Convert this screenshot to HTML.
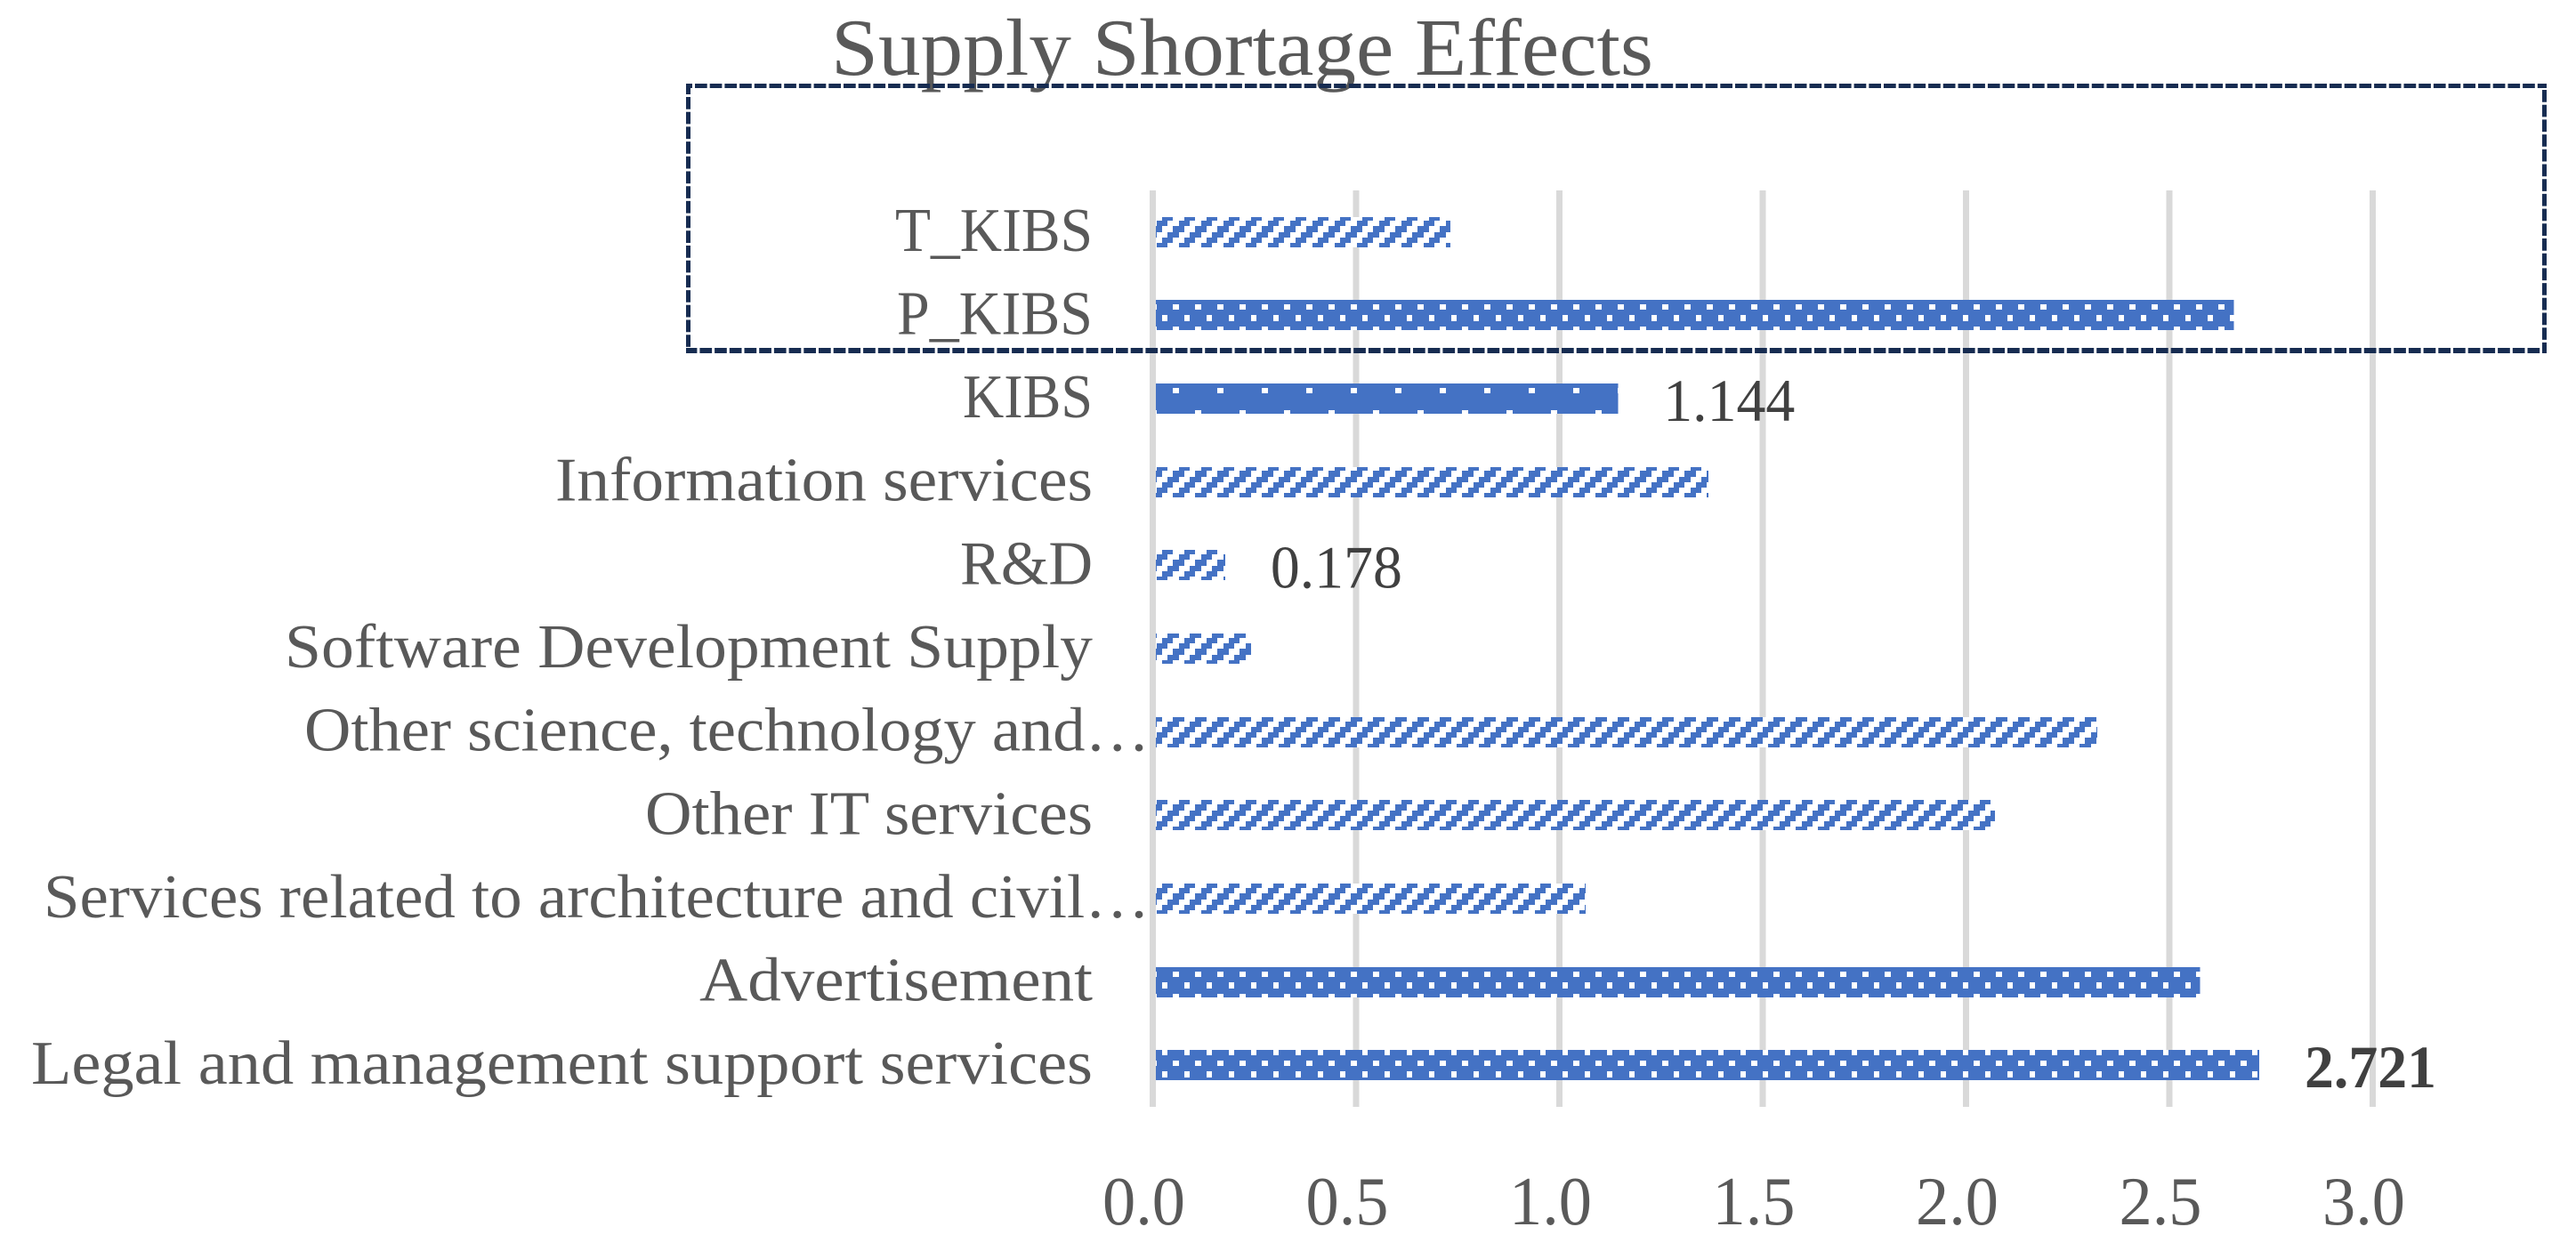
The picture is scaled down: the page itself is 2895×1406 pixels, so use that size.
<!DOCTYPE html>
<html lang="en">
<head>
<meta charset="utf-8">
<title>Supply Shortage Effects</title>
<style>
  html, body { margin: 0; padding: 0; background: #ffffff; }
  svg { display: block; font-family: "Liberation Serif", serif; }
</style>
</head>
<body>
<svg id="chart" xmlns="http://www.w3.org/2000/svg" width="2895" height="1406" viewBox="0 0 2895 1406">
  <defs>
    <pattern id="fill-hatch" patternUnits="userSpaceOnUse" width="25" height="25" shape-rendering="crispEdges">
      <rect width="25" height="25" fill="#ffffff"/>
      <rect x="18" y="4" width="7" height="7" fill="#4472c4"/>
      <rect x="0" y="4" width="6" height="7" fill="#4472c4"/>
      <rect x="12" y="11" width="13" height="6" fill="#4472c4"/>
      <rect x="6" y="17" width="12" height="6" fill="#4472c4"/>
      <rect x="0" y="23" width="12" height="2" fill="#4472c4"/>
      <rect x="0" y="0" width="12" height="4" fill="#4472c4"/>
    </pattern>
    <pattern id="fill-dots" patternUnits="userSpaceOnUse" width="25" height="25" shape-rendering="crispEdges">
      <rect width="25" height="25" fill="#4472c4"/>
      <rect x="18" y="17" width="7" height="6" fill="#ffffff"/>
      <rect x="6" y="4" width="6" height="7" fill="#ffffff"/>
    </pattern>
    <pattern id="fill-sparse" patternUnits="userSpaceOnUse" width="50" height="50" shape-rendering="crispEdges">
      <rect width="50" height="50" fill="#4472c4"/>
      <rect x="18" y="36" width="7" height="6" fill="#ffffff"/>
      <rect x="43" y="11" width="7" height="6" fill="#ffffff"/>
    </pattern>
  </defs>
  <rect width="2895" height="1406" fill="#ffffff"/>
  <g id="grid"></g>
  <g id="bars"></g>
  <g id="cats"></g>
  <g id="ticks"></g>
  <g id="vals"></g>
  <text x="934" y="84" font-size="91" fill="#595959" textLength="924" lengthAdjust="spacingAndGlyphs">Supply Shortage Effects</text>
  <g fill="none" stroke="#172c51" stroke-dasharray="13.7 3">
    <line x1="771" y1="96.5" x2="2862" y2="96.5" stroke-width="5" stroke-dashoffset="6.7"/>
    <line x1="2859.5" y1="94" x2="2859.5" y2="397" stroke-width="5" stroke-dashoffset="9.7"/>
    <line x1="771" y1="394" x2="2862" y2="394" stroke-width="6" stroke-dashoffset="1.3"/>
    <line x1="773.5" y1="94" x2="773.5" y2="397" stroke-width="5" stroke-dashoffset="1.7"/>
  </g>
</svg>
<script>
const categories = ["T_KIBS", "P_KIBS", "KIBS", "Information services", "R&D", "Software Development Supply", "Other science, technology and…", "Other IT services", "Services related to architecture and civil…", "Advertisement", "Legal and management support services"];
const seriesValues = [0.732, 2.659, 1.144, 1.367, 0.178, 0.242, 2.323, 2.071, 1.065, 2.575, 2.721];
const tickValues = [0, 0.5, 1, 1.5, 2, 2.5, 3];
const tickLabels = ["0.0", "0.5", "1.0", "1.5", "2.0", "2.5", "3.0"];
const labelledCategories = ["KIBS", "R&D", "Legal and management support services"];
const boldCategories = ["Legal and management support services"];
const fillKinds = ["hatch", "dots", "sparse", "hatch", "hatch", "hatch", "hatch", "hatch", "hatch", "dots", "dots"];
const labelInkWidths = [222, 220, 146, 604, 149, 908, 950, 503, 1243, 442, 1193];

const NS = "http://www.w3.org/2000/svg";
const plot = { x0: 1295.5, perUnit: 457, top: 214, bottom: 1244, barHeight: 34, barInset: 3.5 };
const bandHeight = (plot.bottom - plot.top) / categories.length;
const xScale = function (v) { return plot.x0 + v * plot.perUnit; };
const yCenter = function (i) { return plot.top + bandHeight * (i + 0.5); };
const make = function (tag, attrs, parent) {
  const el = document.createElementNS(NS, tag);
  Object.keys(attrs).forEach(function (k) { el.setAttribute(k, attrs[k]); });
  parent.appendChild(el);
  return el;
};
const gridGroup = document.getElementById("grid");
const barGroup = document.getElementById("bars");
const catGroup = document.getElementById("cats");
const tickGroup = document.getElementById("ticks");
const valGroup = document.getElementById("vals");

tickValues.forEach(function (t, i) {
  const line = make("rect", { x: xScale(t) - 3.5, y: plot.top, width: 7, height: plot.bottom - plot.top, fill: "#d9d9d9" }, gridGroup);
  
  
  const label = make("text", { x: xScale(t) - 10, y: 1376, "font-size": 77, fill: "#595959", "text-anchor": "middle", textLength: 93, lengthAdjust: "spacingAndGlyphs" }, tickGroup);
  label.textContent = tickLabels[i];
  
  
});

categories.forEach(function (name, i) {
  const cy = yCenter(i);
  const top = Math.round(cy - plot.barHeight / 2);
  const left = plot.x0 + plot.barInset;
  const right = xScale(seriesValues[i]);
  const bar = make("rect", { x: left, y: top, width: Math.max(0, right - left), height: plot.barHeight, fill: "url(#fill-" + fillKinds[i] + ")", "shape-rendering": "crispEdges" }, barGroup);
  
  

  const truncated = name.charAt(name.length - 1) === "…";
  const catLabel = make("text", { x: truncated ? 1292 : 1228, y: cy + 21, "font-size": 70, fill: "#595959", "text-anchor": "end", textLength: labelInkWidths[i], lengthAdjust: "spacingAndGlyphs" }, catGroup);
  catLabel.textContent = name;
  
  

  if (labelledCategories.indexOf(name) >= 0) {
    const bold = boldCategories.indexOf(name) >= 0;
    const valLabel = make("text", { x: right + 51, y: cy + 25, "font-size": 68, fill: "#404040", "font-weight": bold ? "700" : "400", textLength: 148, lengthAdjust: "spacingAndGlyphs" }, valGroup);
    valLabel.textContent = seriesValues[i].toFixed(3);
    
    
  }
});
</script>
</body>
</html>
